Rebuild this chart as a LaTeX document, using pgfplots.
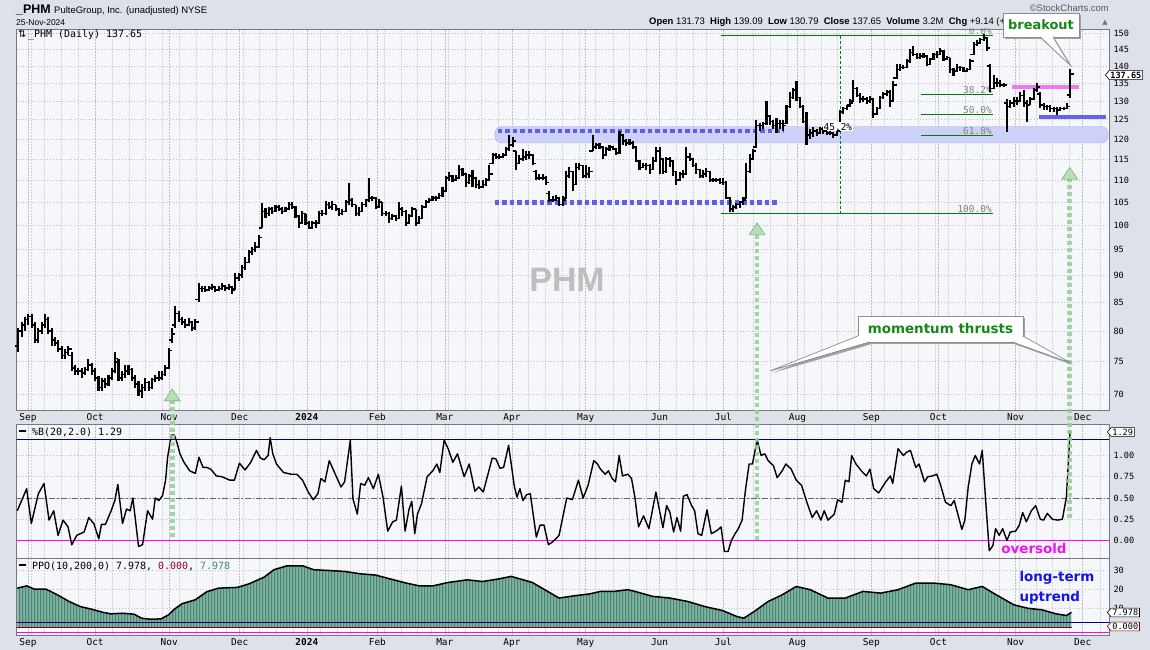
\documentclass[border=0pt]{standalone}
\usepackage{fontspec}
\setmainfont{DejaVu Sans}
\newfontfamily\lib{Liberation Sans}
\newfontfamily\mono{DejaVu Sans Mono}
\usepackage{pgfplots}
\usepackage{pgfplotstable}
\pgfplotsset{compat=1.18}
\usetikzlibrary{arrows.meta,patterns.meta,shapes.symbols}

\definecolor{outerbg}{RGB}{221,225,233}
\definecolor{plotbg}{RGB}{246,247,250}
\definecolor{gridc}{RGB}{212,212,218}
\definecolor{gridmaj}{RGB}{190,190,198}
\definecolor{axisc}{RGB}{120,120,130}
\definecolor{bandfill}{RGB}{205,208,247}
\definecolor{bandedge}{RGB}{160,165,240}
\definecolor{dotblue}{RGB}{95,95,235}
\definecolor{fibgreen}{RGB}{0,128,0}
\definecolor{fibgray}{RGB}{130,130,130}
\definecolor{magbar}{RGB}{240,120,240}
\definecolor{bluebar}{RGB}{100,100,235}
\definecolor{arrline}{RGB}{150,205,150}
\definecolor{arrfill}{RGB}{175,218,175}
\definecolor{arredge}{RGB}{125,185,125}
\definecolor{ppofill}{RGB}{125,180,162}
\definecolor{ppodark}{RGB}{55,105,90}
\definecolor{navyc}{RGB}{0,0,128}
\definecolor{magline}{RGB}{255,0,255}
\definecolor{darkred}{RGB}{128,0,0}
\definecolor{callgreen}{RGB}{20,135,20}
\definecolor{overs}{RGB}{240,20,240}
\definecolor{ltblue}{RGB}{20,20,230}
\definecolor{wmgray}{RGB}{190,190,192}
\definecolor{shadowc}{RGB}{160,160,165}
\definecolor{calledge}{RGB}{140,140,145}
\definecolor{tealtxt}{RGB}{60,140,120}
\definecolor{redtxt}{RGB}{150,0,50}

\tikzdeclarepattern{
  name=vbars, type=uncolored,
  bounding box={(0,0) and (3.34bp,2bp)},
  tile size={(3.34bp,2bp)},
  code={\draw[line width=0.9bp] (1bp,-1bp) -- (1bp,3bp);}
}

\pgfdeclareplotmark{otick}{\pgfpathmoveto{\pgfqpoint{-3.3bp}{0pt}}\pgfpathlineto{\pgfqpoint{0pt}{0pt}}\pgfusepathqstroke}
\pgfdeclareplotmark{ctick}{\pgfpathmoveto{\pgfqpoint{0pt}{0pt}}\pgfpathlineto{\pgfqpoint{3.3bp}{0pt}}\pgfusepathqstroke}

\pgfplotstableread{
u o h l c
-5 77.5 80.5 76.5 80
-4 80 81.5 79 81
-3 81 82.5 80 82
-2 82 83 81 82.5
-1 82.5 83 80.5 81
0 81 81.5 78 78.5
1 78.5 80.5 78 80
2 80 81.5 79.5 81
3 81 83 80.5 82
4 82 82.5 79.5 80
5 80 80.5 77.5 78.5
6 78.5 79 77.5 78
7 78 78.5 76.5 77
8 77 77.5 75.5 76
9 76 77 75.5 76.5
10 76.5 77.5 76 77
11 76 76.5 73.5 74
12 74 74.5 73 73.5
13 73.5 74 73 73.5
14 73.5 74 72.5 73.2
15 73.2 74.2 73 73.8
16 73.8 75.5 73.5 74.5
17 74.5 74.8 73 73.5
18 73.5 74 72 72.5
19 72.5 72.8 70.5 71
20 71 72.5 70.5 72
21 72 72.5 71 71.5
22 71.5 73 71.2 72.5
23 72.5 74 72.2 73.5
24 73.5 76.5 73.2 75.5
25 75 75.5 72 72.5
26 72.5 73.5 72 73
27 73 74.5 72.5 73.5
28 73.5 74.5 73 73.8
29 73.8 74 72 72.5
30 72.5 73 71 71.5
31 71.5 72 69.8 70.5
32 70.5 71.5 69.5 71
33 71 72.5 70.5 71.8
34 71.8 72 70.5 71
35 71 72.5 70.8 72.2
36 72.2 73 71.8 72.5
37 72.5 73.5 72 72.5
38 72.5 73.5 72.2 73
39 73 74.5 72.8 74
40 74 77.2 73.8 76.8
41 78.5 80.5 78 79.5
42 81 84.3 80.5 83
43 83 83.5 81.5 82
44 82 82.5 81 81.5
45 81.5 82 80.5 81
46 81 82.2 80.8 81.5
47 81.5 81.8 80 80.5
48 80.5 82 80.2 81.5
49 85.5 88.5 85 87.5
50 87.5 88 86.8 87.5
51 87.5 88 86.8 87.3
52 87.3 88 87 87.6
53 87.6 88.3 87.2 87.8
54 87.8 88 86.8 87.2
55 87.2 88 87 87.5
56 87.5 88.5 87.2 88
57 88 88.2 87 87.6
58 87.6 88.3 87.3 87.8
59 87.8 88 86.5 87.3
60 87.5 90.5 87.3 89.5
61 89.5 90.5 89 90
62 90 92 89.5 91.5
63 91.5 93.5 91 92.5
64 92.5 95 92.3 94.5
65 94.5 95.5 94 95
66 95 96.5 94.5 95.5
67 95.5 98 95.3 97.5
68 99.5 104.8 99.5 103
69 103 103.8 101.5 102.5
70 102.5 104 102 103.5
71 103.5 104 102.5 103
72 103 104.5 102.8 104
73 104 104.5 103 103.5
74 103.5 104 102.5 103
75 103 104 102.8 103.5
76 103.5 105 103.2 104.5
77 104.5 105 103.5 104
78 104 104.2 101.5 102
79 102 102.3 99.5 100.5
80 100.5 103 100.2 102.5
81 102.5 102.5 100 100.5
82 100.5 101 99.2 99.5
83 99.5 101 99.2 100.5
84 100.5 101.2 99.5 100.5
85 100.5 103 100.2 102.5
86 102.5 103.2 102 102.5
87 102.5 105.3 102.3 104.5
88 104.5 105 103.5 104
89 104 105.2 103.3 104.5
90 104.5 104.5 103 103.5
91 103.5 103.8 102 102.5
92 102.5 103.5 102.3 103
93 103 105.5 102.8 105
94 105 109.4 104.5 105.5
95 105.5 106 104 104.5
96 104.5 104.5 102 102.5
97 102.5 104 102 103
98 103 105 102.8 104.5
99 104.5 105.8 104 105.5
100 105.5 110.5 105 106
101 106 106.5 105.2 106
102 106 106.2 103.5 104
103 104 105.8 103.7 105
104 105 105 102 102.5
105 102.5 103 102 102.5
106 102.5 102.8 100.5 101.5
107 101.5 102.5 101.2 102
108 102 102.2 101 101.5
109 101.5 105 101.3 103.5
110 103.5 104 102 103
111 103 103.2 99.8 100.5
112 100.5 102.5 100.2 102
113 102 104 101.8 103.5
114 103.5 103.5 99.8 100.5
115 100.5 102 100.2 101.5
116 101.5 104.5 101.3 104
117 104 105.5 103.8 105
118 105 106 104.8 105.5
119 105.5 106.5 105.2 106
120 106 106.5 105.3 106
121 106 107 105.8 106.5
122 106.5 108.5 106.2 107.5
123 107.5 111 107.2 110.5
124 110.5 112 109.8 111
125 111 111.3 109.5 110
126 110 111.2 109.8 110.5
127 110.5 113.5 110.3 112.5
128 112.5 112.8 111 111.5
129 111.5 111.8 108.5 109.5
130 109.5 111.5 109.2 111
131 111 112.5 108.5 110.5
132 110.5 110.8 108.3 109
133 109 110 108 108.5
134 108.5 110 108.3 109
135 109 110.5 108.7 110
136 110 113.5 109.8 111.5
137 114 116.5 113.8 116
138 116 116.5 115 115.5
139 115.5 116.2 115 115.5
140 115.5 116.5 115.2 116
141 116 118 115.8 117.5
142 117.5 121 117 118.5
143 118.5 120.5 118 119.5
144 117 117 112.5 114
145 114 116 113.8 115
146 115 117.5 114.5 115.5
147 115.5 117 114.8 116
148 116 117 115 116
149 116 116.2 113.5 114
150 112 112.5 110 110.5
151 110.5 111.5 110 110.5
152 110.5 111.5 110 110.5
153 110.5 111 109 109.5
154 107 107.5 105 105.5
155 105.5 106.5 105 105.5
156 105.5 106.7 105.3 106
157 106 106.2 104.2 104.5
158 104.5 106.5 104.2 105.5
159 106 112.2 105.8 111
160 111 113 110.5 112
161 112 112.2 107.5 109
162 109 114 108.8 113
163 113 114 112.5 113.5
164 113.5 113.5 110.5 111
165 111 113.5 110.5 111.5
166 111.5 113 110.5 112
167 117 121 117 118
168 118 119 117.5 118.5
169 118.5 119 117.5 118
170 118 118.2 115 116
171 116 118 115.8 117.5
172 117.5 118.5 117 118
173 118 118.3 117.2 117.5
174 117.5 117.8 116 116.5
175 116.5 122 116.3 121
176 121 121.2 118.5 119.5
177 119.5 120 118.3 119
178 119 120 118.5 119
179 119 119.5 117.5 118
180 118 118.2 114.2 114.5
181 114.5 114.8 112.3 113
182 113 114 112.8 113.5
183 113.5 114 112.5 113.5
184 113.5 113.8 111.5 112.5
185 112.5 115.5 112.3 114.5
186 114.5 118 114.3 117
187 117 118 111.5 115
188 115 115.2 111.5 112
189 112 115.5 111.8 115
190 115 115.5 113 114.5
191 114.5 114.8 111 112
192 112 112.2 108.8 110
193 110 112 109.8 111.5
194 111.5 112.3 110.5 111.5
195 111.5 118 111.3 115.5
196 115.5 116.5 114.5 115
197 115 115.3 113 113.5
198 113.5 114 111.5 112.5
199 112.5 112.7 110.5 111
200 111 112.5 110.5 111.5
201 111.5 112.8 110.8 112
202 112 112.2 109.5 110
203 110 110.5 109.5 110
204 110 110.5 109.5 110
205 110 110.5 109.2 109.5
206 109.5 110.5 109 109.5
207 109.5 109.8 105.8 106
208 106 106.2 102.8 103.5
209 103.5 104.5 102.8 104
210 104 104.8 103.5 104.5
211 104.5 105.2 103.8 105
212 105 106.2 104.5 105.5
213 106 114 105.8 112
214 112 116.2 111.8 115
215 115 117.5 114.8 117
216 118 125 117.8 123.5
217 123.5 124 122 123.5
218 123.5 124.5 122.5 124
219 124 130 123.5 126
220 126 126.2 123.5 124.5
221 124.5 125 122.5 123.5
222 123.5 125.5 121.5 124
223 124 125 122.5 124
224 124 124.8 122 123.5
225 124 129 123.8 128.5
226 128.5 132.5 128.2 131
227 131 133.5 130.5 133
228 133 135.5 130 131
229 131 131.2 128 128.5
230 128.5 128.8 124 124.5
231 124.5 127 118.5 121
232 121 122.5 120 121.5
233 121.5 123 120.5 122
234 122 122.5 120.8 121.5
235 121.5 123 121.2 122.5
236 122.5 123 121.3 122
237 122 122.5 121 121.5
238 121.5 122.5 121 121.5
239 121.5 121.8 120.3 121
240 121 122.5 120.8 122
241 122 127.5 121.8 127
242 127 128.5 126.5 128
243 128 129 127.5 128.5
244 129 130.5 128.5 129.5
245 130 136 129.8 133.5
246 133.5 133.8 131 131.5
247 131.5 132.2 129.5 130.5
248 130.5 131.5 129.8 130.5
249 130.5 131.2 129.2 130
250 130 131.5 129.5 130.5
251 130.5 130.8 125.5 126.5
252 126.5 128.5 126.2 128
253 128 131.5 127.8 131
254 131 132.5 130.5 132
255 132 133 131.5 132.5
256 132.5 133 128.5 130
257 130 135.5 129.8 134.5
258 136.5 140.5 136.3 139
259 139 140.5 138.5 139.5
260 139.5 140.2 139 139.5
261 139.5 142 139.3 141.5
262 141.5 145 141 144
263 144 146 143 143.5
264 143.5 143.8 142 142.5
265 142.5 143.8 142.2 143
266 143 144 142.5 143
267 143 143.2 140 140.5
268 140.5 142.5 140.3 142
269 142 144 141.8 143.5
270 143.5 144.5 142.5 143.5
271 143.5 145.3 143.3 144.5
272 144.5 144.8 141.5 142
273 142 143 141.8 142.5
274 142.5 142.5 138 139
275 139 139.5 137 138.5
276 138.5 140.5 138.3 139.5
277 139.5 140 138.5 139.5
278 139.5 139.8 138.2 138.5
279 138.5 139.5 138.3 139
280 139 142 138.8 141.5
281 143.5 147.2 143.3 146.5
282 146.5 148 146 147
283 147 148.5 146.8 148
284 148 149.8 147.5 148.5
285 148.5 148.8 144.5 145.5
286 140 140.5 132.5 133.5
287 133.5 137.5 133.3 135
288 135 136.5 134 135
289 135 135.8 134 134.5
290 134.5 135.2 134 134.5
291 129.5 130.5 121.8 128.5
292 128.5 130.2 128.2 129.5
293 129.5 131 128.5 130
294 130 131 128.8 130
295 130 132.5 129.8 131.5
296 131.5 133 128.5 129.5
297 129.5 130.2 124.5 129
298 129 131 128.8 130.5
299 130.5 133.5 130.3 133
300 133 135 132.5 134
301 132 132.5 128 129
302 129 129.5 127.5 128.5
303 128.5 129 127.5 128.5
304 128.5 128.8 127 128
305 128 128.5 127 128
306 128 128.3 126.2 127.5
307 127.5 128.5 127.2 128
308 128 128.5 127.5 128
309 128 129.5 127.8 128.5
310 131.73 139.09 130.79 137.65
}\pricetab

\pgfplotstableread{
u v
-5.3 20.7
-2.5 21.9
-0.2 20.2
3.3 20.2
6.7 17.2
10.2 13.7
13.6 11.0
17.0 9.6
20.5 7.9
22.8 7.2
26.2 7.5
29.7 7.0
31.9 4.9
34.2 4.4
37.7 4.5
40.0 6.7
41.7 9.6
44.0 12.5
48.0 14.6
51.4 18.8
54.9 20.7
60.6 21.1
64.1 23.0
68.6 26.5
71.5 30.4
75.5 32.5
80.1 32.5
83.5 30.4
88.1 30.0
92.7 29.5
97.3 28.3
101.9 27.6
106.5 25.5
111.1 23.4
115.1 21.9
119.1 21.9
123.7 23.7
129.4 25.1
134.0 24.2
138.6 25.5
142.6 26.9
148.9 23.7
153.5 19.0
156.9 15.5
161.5 16.7
166.1 17.7
169.3 19.0
173.3 19.0
177.5 19.9
179.6 19.0
184.9 16.4
190.1 15.5
195.4 13.7
200.6 11.0
205.9 8.9
210.1 5.8
212.2 4.9
215.3 8.4
219.5 13.7
223.7 17.2
227.9 21.6
232.1 19.9
237.4 15.5
242.6 15.5
247.9 19.0
253.2 18.1
258.4 19.9
263.7 23.4
268.9 23.4
274.2 22.5
279.4 19.9
283.6 21.6
287.8 17.2
293.1 11.9
297.3 10.1
301.5 9.3
305.7 7.2
308.8 6.3
310.3 7.978
}\ppotab

\pgfplotsset{
  commonx/.style={
    scale only axis, width=1092.5bp,
    xmin=-5.54, xmax=321.56,
    axis background/.style={fill=plotbg},
    axis line style={draw=axisc, line width=0.8bp},
    xtick={-2.1,18.0,40.2,61.3,81.4,102.5,122.7,142.8,164.9,187.0,206.1,228.3,250.4,270.5,293.6,313.7},
    minor xtick={-1.1,2.9,7.96,13.0,23.05,28.1,33.1,38.1,43.2,48.2,53.2,57.3,62.3,67.3,72.3,77.4,85.4,90.5,94.5,99.5,104.5,109.6,114.6,118.6,123.7,128.7,133.7,138.7,147.8,152.8,157.9,162.9,167.9,173.0,178.0,183.0,192.1,197.1,201.1,210.2,215.2,220.2,225.3,230.3,235.3,240.3,245.4,254.4,259.5,264.5,269.5,273.5,278.6,283.6,288.6,294.7,299.7,304.7,309.8,318.8},
    xmajorgrids, xminorgrids, ymajorgrids,
    major grid style={draw=gridmaj, dash pattern=on 1.5bp off 1.5bp, line width=0.6bp},
    minor grid style={draw=gridc, dash pattern=on 1.5bp off 1.5bp, line width=0.6bp},
    tick style={draw=none},
    yticklabel pos=right,
    yticklabel style={font=\mono\fontsize{8.6}{10}\selectfont, xshift=1bp},
    xticklabel style={font=\mono\fontsize{9.5}{10}\selectfont},
    /pgf/number format/assume math mode=true,
  },
  monthlabels/.style={xticklabels={Sep,Oct,Nov,Dec,\textbf{2024},Feb,Mar,Apr,May,Jun,Jul,Aug,Sep,Oct,Nov,Dec}},
}

\begin{document}
\begin{tikzpicture}
\path[use as bounding box, fill=outerbg] (0bp,0bp) rectangle (1150bp,650bp);

% ---------------- price panel (y axis in natural-log units of price) ----------------
\begin{axis}[commonx, monthlabels,
  at={(16.5bp,240bp)}, anchor=south west, height=381bp,
  ymin=4.21539, ymax=5.01972,
  ytick={4.24850,4.31749,4.38203,4.44265,4.49981,4.55388,4.60517,4.65396,4.70048,4.74493,4.78749,4.82831,4.86753,4.90527,4.94164,4.97673,5.01064},
  yticklabels={70,75,80,85,90,95,100,105,110,115,120,125,130,135,140,145,150},
]
\node[font=\lib\bfseries\fontsize{34}{34}\selectfont, text=wmgray] at (axis cs:159.3,4.48976) {PHM};
\fill[bandfill, draw=bandedge, rounded corners=7bp] (axis cs:137.7,4.77912) rectangle (axis cs:321.3,4.81381);
\draw[dotblue, line width=4.5bp, dash pattern=on 4.5bp off 3bp] (axis cs:138.5,4.80484) -- (axis cs:224,4.80484);
\draw[dotblue, line width=4.5bp, dash pattern=on 4.5bp off 3bp] (axis cs:137.7,4.65396) -- (axis cs:223,4.65396);
\draw[fibgreen, line width=0.9bp] (axis cs:205.4,5.00595) -- (axis cs:286.8,5.00595);
\draw[fibgreen, line width=0.9bp] (axis cs:205.4,4.62986) -- (axis cs:286.8,4.62986);
\draw[fibgreen, line width=0.9bp] (axis cs:265.4,4.88128) -- (axis cs:286.8,4.88128);
\draw[fibgreen, line width=0.9bp] (axis cs:265.4,4.83866) -- (axis cs:286.8,4.83866);
\draw[fibgreen, line width=0.9bp] (axis cs:265.4,4.79413) -- (axis cs:286.8,4.79413);
\draw[fibgreen, line width=0.9bp, dash pattern=on 3bp off 2bp] (axis cs:241,4.62986) -- (axis cs:241,5.00595);
\node[anchor=south east, text=fibgray, inner sep=1bp, font=\mono\fontsize{9.5}{9}\selectfont] at (axis cs:286.8,5.00595) {0.0\%};
\node[anchor=south east, text=fibgray, inner sep=1bp, font=\mono\fontsize{9.5}{9}\selectfont] at (axis cs:286.8,4.88128) {38.2\%};
\node[anchor=south east, text=fibgray, inner sep=1bp, font=\mono\fontsize{9.5}{9}\selectfont] at (axis cs:286.8,4.83866) {50.0\%};
\node[anchor=south east, text=fibgray, inner sep=1bp, font=\mono\fontsize{9.5}{9}\selectfont] at (axis cs:286.8,4.79413) {61.8\%};
\node[anchor=south east, text=fibgray, inner sep=1bp, font=\mono\fontsize{9.5}{9}\selectfont] at (axis cs:286.8,4.62986) {100.0\%};
\draw[magbar, line width=4bp] (axis cs:292.5,4.89784) -- (axis cs:312.6,4.89784);
\draw[bluebar, line width=4bp] (axis cs:300.6,4.83469) -- (axis cs:320.7,4.83469);
\addplot[draw=none, mark=none, forget plot,
  error bars/.cd, y dir=minus, y explicit, error mark=none,
  error bar style={black, line width=2.1bp, solid}]
  table[x=u, y expr=ln(\thisrow{h}), y error minus expr=ln(\thisrow{h})-ln(\thisrow{l})] {\pricetab};
\addplot[only marks, black, mark=otick, mark options={solid, line width=1.6bp}]
  table[x=u, y expr=ln(\thisrow{o})] {\pricetab};
\addplot[only marks, black, mark=ctick, mark options={solid, line width=1.6bp}]
  table[x=u, y expr=ln(\thisrow{c})] {\pricetab};
\node[fill=white, inner sep=1bp, font=\mono\fontsize{9.5}{9}\selectfont] at (axis cs:240.4,4.81300) {45.2\%};
\coordinate (a1t) at (axis cs:41.1,4.26127);
\coordinate (a2t) at (axis cs:216.2,4.61215);
\coordinate (a3t) at (axis cs:309.8,4.72916);
\end{axis}

% ---------------- %B panel ----------------
\begin{axis}[commonx, xticklabels={},
  at={(16.5bp,92bp)}, anchor=south west, height=134bp,
  ymin=-0.206, ymax=1.371,
  ytick={0,0.25,0.5,0.75,1}, yticklabels={0.00,0.25,0.50,0.75,1.00},
]
\draw[navyc, line width=0.9bp] (axis cs:-6,1.185) -- (axis cs:322,1.185);
\draw[magline, line width=0.9bp] (axis cs:-6,0) -- (axis cs:322,0);
\draw[black!60, line width=0.8bp, dash pattern=on 6bp off 2bp on 1.5bp off 2bp] (axis cs:-6,0.5) -- (axis cs:322,0.5);
\addplot[black, line width=1.4bp, line join=round] coordinates {
(-5.3,0.35) (-2.5,0.61) (-1.1,0.20) (1.0,0.55) (2.7,0.67) (4.2,0.24) (5.6,0.35) (6.9,0.06) (8.4,0.24) (9.9,0.16)
(11.0,-0.05) (12.5,0.06) (13.6,0.08) (14.7,0.10) (16.1,0.27) (17.6,0.20) (19.1,0.02) (19.9,0.19) (21.1,0.19) (22.8,0.35)
(23.9,0.47) (24.8,0.66) (26.2,0.20) (27.4,0.37) (28.5,0.35) (29.3,0.50) (31.0,-0.07) (32.2,-0.05) (33.7,0.35) (35.2,0.25)
(36.0,0.50) (37.1,0.47) (38.2,0.53) (39.1,0.71) (39.7,0.98) (40.8,1.24) (41.7,1.24) (42.3,1.18) (43.4,1.02) (44.6,0.92)
(46.3,0.82) (48.0,0.79) (49.1,0.98) (50.3,0.86) (51.4,0.86) (52.6,0.84) (54.3,0.76) (56.0,0.75) (58.3,0.71) (59.7,0.71)
(61.2,0.91) (62.9,0.83) (64.6,0.92) (66.3,1.06) (67.5,0.97) (68.6,0.95) (69.8,1.00) (70.4,1.21) (71.2,1.02) (72.3,0.90)
(74.4,0.80) (76.7,0.78) (78.4,0.78) (80.1,0.71) (81.8,0.57) (83.3,0.48) (84.7,0.55) (85.6,0.73) (86.8,0.69) (88.1,0.94)
(89.9,0.78) (91.6,0.63) (92.7,0.69) (94.4,1.18) (95.2,0.49) (96.5,0.31) (97.5,0.67) (98.7,0.65) (99.8,0.74) (101.3,0.61)
(102.8,0.78) (104.2,0.51) (105.6,0.11) (107.1,0.22) (108.2,0.24) (109.7,0.64) (110.8,0.11) (112.0,0.37) (112.8,0.46) (113.7,0.08)
(114.5,0.31) (115.7,0.43) (117.4,0.75) (119.1,0.82) (120.3,0.90) (121.2,0.80) (122.5,1.18) (123.7,1.08) (125.1,0.92) (126.5,1.02)
(128.5,0.75) (130.0,0.90) (131.7,0.58) (132.9,0.63) (134.2,0.57) (136.9,0.97) (138.0,0.96) (139.2,0.85) (140.3,0.86) (141.8,1.12)
(143.5,0.64) (144.3,0.51) (145.2,0.61) (146.1,0.47) (147.2,0.54) (148.3,0.55) (150.1,0.04) (151.2,0.18) (152.4,0.18) (153.7,-0.05)
(155.2,-0.01) (156.9,0.06) (158.1,0.29) (159.2,0.50) (160.9,0.48) (162.7,0.71) (164.1,0.50) (165.6,0.65) (167.3,0.94) (168.4,0.90)
(169.3,0.84) (170.7,0.78) (171.7,0.82) (172.8,0.73) (173.8,0.69) (174.9,1.00) (175.9,0.76) (177.5,0.78) (178.6,0.73) (179.6,0.51)
(180.7,0.16) (182.2,0.29) (183.8,0.14) (185.9,0.57) (188.0,0.15) (189.1,0.41) (190.1,0.33) (191.2,0.10) (192.2,0.27) (193.3,0.11)
(194.1,0.52) (195.2,0.54) (196.6,0.41) (197.5,0.35) (198.5,0.08) (199.6,0.06) (201.2,0.36) (202.5,0.08) (204.3,0.12) (205.4,0.16)
(206.4,-0.13) (207.5,-0.13) (208.5,0.00) (209.6,0.08) (210.6,0.14) (211.7,0.24) (212.7,0.59) (213.8,0.90) (214.8,0.90) (216.2,1.18)
(217.4,1.00) (218.5,1.02) (219.5,0.94) (221.1,0.88) (222.2,0.74) (223.7,0.82) (224.8,0.90) (226.4,0.84) (227.9,0.71) (229.5,0.65)
(231.1,0.45) (232.7,0.27) (234.0,0.35) (235.3,0.24) (236.3,0.35) (237.4,0.24) (239.3,0.31) (240.3,0.48) (241.6,0.45) (242.6,0.71)
(243.7,0.69) (244.5,1.00) (245.8,0.90) (247.4,0.82) (248.9,0.76) (250.0,0.84) (251.1,0.61) (252.6,0.56) (254.7,0.69) (256.1,0.76)
(256.8,0.67) (258.4,1.08) (260.0,1.00) (261.0,1.04) (262.1,1.06) (263.7,0.86) (264.7,0.90) (266.3,0.69) (267.3,0.75) (268.7,0.76)
(270.0,0.78) (271.0,0.67) (272.6,0.45) (274.2,0.41) (275.2,0.47) (276.3,0.31) (277.5,0.13) (278.4,0.24) (279.4,0.63) (280.5,0.90)
(281.5,1.00) (282.8,0.90) (283.6,1.06) (284.7,0.43) (285.7,-0.12) (286.8,-0.06) (287.6,0.14) (288.7,0.06) (289.7,0.14) (291.0,0.00)
(292.0,0.10) (293.6,0.11) (294.7,0.18) (295.7,0.33) (296.8,0.22) (298.3,0.35) (299.6,0.41) (301.0,0.25) (302.0,0.24) (303.1,0.32)
(304.6,0.25) (306.2,0.24) (307.6,0.25) (308.8,0.51) (309.9,1.29)
};
\coordinate (a1b) at (axis cs:41.1,0.04);
\coordinate (a2b) at (axis cs:216.2,0.0);
\coordinate (a3b) at (axis cs:309.8,0.27);
\end{axis}

% ---------------- PPO panel ----------------
\begin{axis}[commonx, monthlabels,
  at={(16.5bp,15bp)}, anchor=south west, height=77bp,
  ymin=-3.95, ymax=36.58,
  ytick={10,20,30}, yticklabels={10,20,30},
]
\addplot[fill=ppofill, draw=none] table[x=u, y=v] {\ppotab} \closedcycle;
\addplot[pattern=vbars, pattern color=ppodark, draw=none] table[x=u, y=v] {\ppotab} \closedcycle;
\addplot[black, line width=1.5bp, line join=round] table[x=u, y=v] {\ppotab};
\draw[navyc, line width=0.9bp] (axis cs:-6,2.7) -- (axis cs:322,2.7);
\draw[darkred, line width=0.9bp] (axis cs:-6,0) -- (axis cs:310.5,0);
\draw[magline, line width=0.9bp] (axis cs:-6,-2.4) -- (axis cs:322,-2.4);
\end{axis}

\begin{scope}[x=1bp,y=1bp]
% ---------------- green thrust arrows ----------------
\foreach \b/\t in {a1b/a1t, a2b/a2t, a3b/a3t}{
  \draw[arrline, line width=4.5bp, dash pattern=on 4bp off 3bp, opacity=0.85,
    -{Triangle[width=17bp, length=13bp, line width=0.8bp, fill=arrfill, color=arredge]}] (\b) -- (\t);
}

% ---------------- header ----------------
\node[anchor=base west, inner sep=0, font=\lib\bfseries\fontsize{12.5}{13}\selectfont] at (16,636) {\_PHM};
\node[anchor=base west, inner sep=0, font=\lib\fontsize{9.5}{10}\selectfont] at (54,636) {PulteGroup, Inc. (unadjusted) NYSE};
\node[anchor=base west, inner sep=0, font=\lib\fontsize{8.5}{9}\selectfont] at (16,624) {25-Nov-2024};
\node[anchor=base east, inner sep=0, font=\lib\fontsize{9.5}{10}\selectfont, text=black!65] at (1109,638) {©StockCharts.com};
\node[anchor=base west, inner sep=0, font=\lib\fontsize{9.5}{10}\selectfont] at (649,625) {\textbf{Open} 131.73 \ \textbf{High} 139.09 \ \textbf{Low} 130.79 \ \textbf{Close} 137.65 \ \textbf{Volume} 3.2M \ \textbf{Chg} +9.14 (+7.08\%)};
\node[anchor=base, inner sep=0, font=\fontsize{7}{7}\selectfont, text=black!55] at (1105,625) {▲};

% ---------------- panel legends ----------------
\node[anchor=base west, inner sep=0, font=\mono\fontsize{10}{11}\selectfont] at (18,612) {{\normalfont ⇅}\,\_PHM (Daily) 137.65};
\node[anchor=base west, inner sep=0, font=\mono\fontsize{10}{11}\selectfont] at (19,215) {\rule[0.28em]{7bp}{2.4bp} \%B(20,2.0) 1.29};
\node[anchor=base west, inner sep=0, font=\mono\fontsize{10}{11}\selectfont] at (19,81) {\rule[0.28em]{7bp}{2.4bp} PPO(10,200,0) 7.978, \textcolor{redtxt}{0.000}, \textcolor{tealtxt}{7.978}};

% ---------------- value tags ----------------
\node[signal, signal to=west, signal pointer angle=100, draw=black, fill=white, line width=0.6bp, inner xsep=1.3bp, inner ysep=1.2bp, anchor=west, font=\mono\bfseries\fontsize{8.6}{9}\selectfont] at (1105,575) {137.65};
\node[signal, signal to=west, signal pointer angle=100, draw=black, fill=white, line width=0.6bp, inner xsep=1.3bp, inner ysep=1.2bp, anchor=west, font=\mono\fontsize{8.6}{9}\selectfont] at (1107,218) {1.29};
\node[signal, signal to=west, signal pointer angle=100, draw=black, fill=white, line width=0.6bp, inner xsep=1.3bp, inner ysep=1.2bp, anchor=west, font=\mono\fontsize{8.6}{9}\selectfont] at (1107,37.5) {7.978};
\node[signal, signal to=west, signal pointer angle=100, draw=darkred, fill=white, line width=0.6bp, inner xsep=1.3bp, inner ysep=1.2bp, anchor=west, font=\mono\fontsize{8.6}{9}\selectfont] at (1107,23.5) {0.000};

% ---------------- callouts ----------------
\fill[shadowc] (1005,611) rectangle (1081,635);
\fill[shadowc] (1042,611) -- (1055,611) -- (1072,583) -- cycle;
\draw[calledge, fill=white, line width=0.7bp] (1003,613) rectangle (1079,637);
\fill[white] (1040.5,613.6) -- (1052.5,613.6) -- (1070,585) -- cycle;
\draw[calledge, line width=0.7bp] (1040,613) -- (1070,585) -- (1053,613);
\node[font=\bfseries\fontsize{13}{13}\selectfont, text=callgreen] at (1041,625) {breakout};
\fill[shadowc] (860,306) rectangle (1025,332);
\fill[shadowc] (860,312) -- (872,306) -- (772,277) -- cycle;
\fill[shadowc] (1014,306) -- (1025,312) -- (1073,285) -- cycle;
\draw[calledge, fill=white, line width=0.7bp] (858,308) rectangle (1023,334);
\fill[white] (858.6,314) -- (870,308.6) -- (770,279) -- cycle;
\fill[white] (1012,308.6) -- (1022.4,314) -- (1071,287) -- cycle;
\draw[calledge, line width=0.7bp] (858,314) -- (770,279) -- (870,308);
\draw[calledge, line width=0.7bp] (1012,308) -- (1071,287) -- (1023,314);
\node[font=\bfseries\fontsize{13.5}{13}\selectfont, text=callgreen] at (940.5,321.5) {momentum thrusts};

% ---------------- text notes ----------------
\node[font=\bfseries\fontsize{13.5}{13}\selectfont, text=overs] at (1034,102) {oversold};
\node[anchor=west, font=\bfseries\fontsize{13.5}{13}\selectfont, text=ltblue] at (1016,72.5) {long-term};
\node[anchor=west, font=\bfseries\fontsize{13.5}{13}\selectfont, text=ltblue] at (1016,52.5) {uptrend};
\end{scope}
\end{tikzpicture}
\end{document}
